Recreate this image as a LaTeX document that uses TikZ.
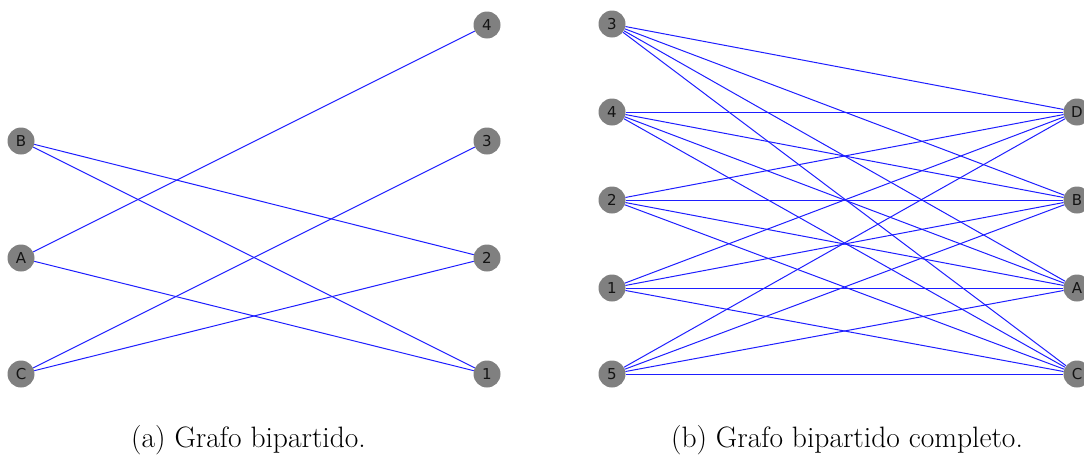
\documentclass[tikz,border=0pt]{standalone}
\usepackage{fontspec}
\newfontfamily\labelfont{DejaVu Sans}
\begin{document}
\begin{tikzpicture}[x=1pt,y=-1pt,
  vertex/.style={circle,fill={rgb,255:red,128;green,128;blue,128},draw=none,
    minimum size=27pt,inner sep=0pt,
    font=\labelfont\fontsize{15}{15}\selectfont,text={rgb,255:red,20;green,20;blue,20}},
  edge/.style={draw={rgb,255:red,30;green,30;blue,255},line width=1pt},
  caption/.style={anchor=base,font=\fontsize{29.5}{34}\selectfont}]
\useasboundingbox (0,0) rectangle (1084,466);
\clip (0,0) rectangle (1084,466);

% (a) bipartite graph
\node[vertex] (aB) at (21,141) {B};
\node[vertex] (aA) at (21,258) {A};
\node[vertex] (aC) at (21,374) {C};
\node[vertex] (a4) at (487,25) {4};
\node[vertex] (a3) at (487,141) {3};
\node[vertex] (a2) at (487,258) {2};
\node[vertex] (a1) at (487,374) {1};
\foreach \u/\v in {aB/a2,aB/a1,aA/a4,aA/a1,aC/a3,aC/a2}
  \draw[edge] (\u) -- (\v);

% (b) complete bipartite graph
\node[vertex] (b3) at (612,24) {3};
\node[vertex] (b4) at (612,112) {4};
\node[vertex] (b2) at (612,200) {2};
\node[vertex] (b1) at (612,288) {1};
\node[vertex] (b5) at (612,374) {5};
\node[vertex] (bD) at (1077,112) {D};
\node[vertex] (bB) at (1077,200) {B};
\node[vertex] (bA) at (1077,288) {A};
\node[vertex] (bC) at (1077,374) {C};
\foreach \u in {b3,b4,b2,b1,b5}
  \foreach \v in {bD,bB,bA,bC}
    \draw[edge] (\u) -- (\v);

% captions
\node[caption] (capa) at (248.5,447) {(a) Grafo bipartido.};
\node[caption] (capb) at (847,447) {(b) Grafo bipartido completo.};
\end{tikzpicture}
\end{document}
